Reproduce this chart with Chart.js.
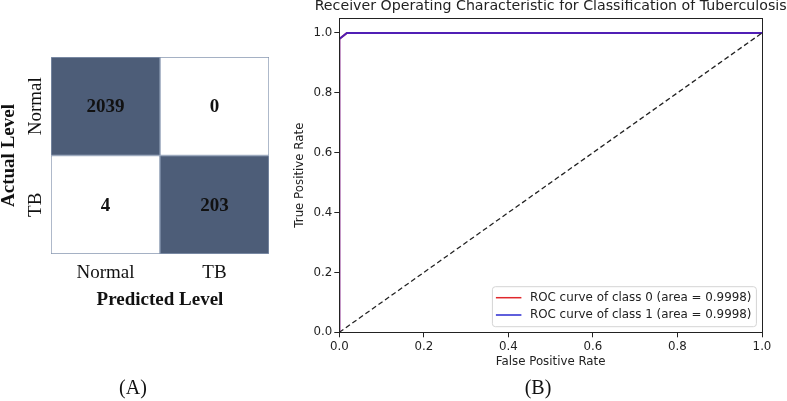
<!DOCTYPE html>
<html lang="en">
<head>
<meta charset="UTF-8">
<title>Confusion matrix and ROC</title>
<script src="https://cdn.jsdelivr.net/npm/chart.js"></script>
<style>
  body { margin: 0; background: #fff; }
  .wrap { position: relative; width: 787px; height: 401px; overflow: hidden; }
  #matriz { position: absolute; left: 0; top: 0; }
  #roc { position: absolute; left: 280px; top: 0; }
  .legenda { position: absolute; top: 376px; font: 20px 'Liberation Serif', serif; color: #111; transform: translateX(-50%); }
</style>
</head>
<body>
<div class="wrap">
  <canvas id="matriz" width="280" height="401"></canvas>
  <canvas id="roc" width="507" height="401"></canvas>
  <div class="legenda" style="left:133px">(A)</div>
  <div class="legenda" style="left:538px">(B)</div>
</div>
<script>
// matriz de confusao
var predictedLabels = ['Normal', 'TB'];
var actualLabels = ['Normal', 'TB'];
var countsNormal = [2039, 0];
var countsTB = [4, 203];

// curva ROC
var fprClass0 = [0, 0, 0.018, 1];
var tprClass0 = [0, 0.98, 1, 1];
var fprClass1 = [0, 0, 0.018, 1];
var tprClass1 = [0, 0.98, 1, 1];
var chanceLine = [0, 1];
var aucClass0 = 0.9998;
var aucClass1 = 0.9998;
var rocTicks = [0, 0.2, 0.4, 0.6, 0.8, 1.0];

var serif = "'Liberation Serif', 'Times New Roman', serif";
var sans = "'DejaVu Sans', sans-serif";

// linhas empilhadas de baixo para cima (TB embaixo, Normal em cima)
var linhas = [
    { nome: actualLabels[1], idx: 1, counts: countsTB },
    { nome: actualLabels[0], idx: 0, counts: countsNormal }
];

var matrizPlugin = {
    id: 'matrizTextos',
    afterDatasetsDraw: function (chart) {
        var ctx = chart.ctx;
        var area = chart.chartArea;
        ctx.save();
        ctx.fillStyle = '#111';
        ctx.textAlign = 'center';
        ctx.textBaseline = 'middle';
        chart.data.datasets.forEach(function (ds, i) {
            var meta = chart.getDatasetMeta(i);
            meta.data.forEach(function (bar, j) {
                var cy = (bar.y + bar.base) / 2;
                ctx.font = 'bold 19px ' + serif;
                ctx.fillText(String(ds.counts[j]), bar.x, cy + 1);
                if (j === 0) {
                    ctx.save();
                    ctx.translate(36, cy);
                    ctx.rotate(-Math.PI / 2);
                    ctx.font = '19px ' + serif;
                    ctx.fillText(ds.label, 0, 0);
                    ctx.restore();
                }
            });
        });
        ctx.save();
        ctx.translate(9, (area.top + area.bottom) / 2);
        ctx.rotate(-Math.PI / 2);
        ctx.font = 'bold 19px ' + serif;
        ctx.fillText('Actual Level', 0, 0);
        ctx.restore();
        ctx.restore();
    }
};

new Chart(document.getElementById('matriz'), {
    type: 'bar',
    data: {
        labels: predictedLabels,
        datasets: linhas.map(function (l) {
            return {
                label: l.nome,
                data: predictedLabels.map(function () { return 1; }),
                counts: l.counts,
                backgroundColor: predictedLabels.map(function (p, j) { return j === l.idx ? '#4d5d78' : '#ffffff'; }),
                borderColor: '#8797b0',
                borderWidth: 1,
                borderSkipped: false,
                barPercentage: 1,
                categoryPercentage: 1
            };
        })
    },
    options: {
        responsive: false,
        animation: false,
        events: [],
        layout: { padding: { left: 51, right: 11, top: 57, bottom: 0 } },
        plugins: { legend: { display: false }, tooltip: { enabled: false } },
        scales: {
            x: {
                stacked: true,
                grid: { display: false, drawTicks: false },
                border: { display: false },
                ticks: { color: '#111', font: { family: serif, size: 19 }, padding: 8 },
                title: {
                    display: true,
                    text: 'Predicted Level',
                    color: '#111',
                    font: { family: serif, size: 19, weight: 'bold' },
                    padding: { top: 0, bottom: 90 }
                },
                afterFit: function (s) { s.height = 147; }
            },
            y: { stacked: true, display: false, min: 0, max: 2 }
        }
    },
    plugins: [matrizPlugin]
});

var rocPlugin = {
    id: 'rocExtras',
    afterDraw: function (chart) {
        var ctx = chart.ctx;
        var a = chart.chartArea;
        ctx.save();
        // moldura
        ctx.strokeStyle = '#222';
        ctx.lineWidth = 1;
        ctx.strokeRect(Math.round(a.left) + 0.5, Math.round(a.top) + 0.5, Math.round(a.right - a.left), Math.round(a.bottom - a.top));
        // titulo
        ctx.fillStyle = '#222';
        ctx.font = '14.2px ' + sans;
        ctx.textAlign = 'center';
        ctx.textBaseline = 'middle';
        ctx.fillText('Receiver Operating Characteristic for Classification of Tuberculosis', (a.left + a.right) / 2, 6.5);
        // legenda
        var itens = chart.data.datasets.filter(function (d) { return d.naLegenda; });
        var w = 264, h = 40;
        var x0 = a.right - 5.6 - w, y0 = a.bottom - 5.6 - h;
        ctx.beginPath();
        ctx.roundRect(x0, y0, w, h, 3);
        ctx.fillStyle = 'rgba(255,255,255,0.85)';
        ctx.fill();
        ctx.strokeStyle = '#d4d4d4';
        ctx.stroke();
        ctx.font = '11.9px ' + sans;
        ctx.textAlign = 'left';
        itens.forEach(function (d, i) {
            var ly = y0 + 11 + i * 17.3;
            ctx.beginPath();
            ctx.moveTo(x0 + 3.5, ly);
            ctx.lineTo(x0 + 29, ly);
            ctx.strokeStyle = d.corLegenda;
            ctx.lineWidth = 1.5;
            ctx.stroke();
            ctx.fillStyle = '#222';
            ctx.fillText(d.label, x0 + 37.5, ly);
        });
        ctx.restore();
    }
};

function pontos(xs, ys) {
    return xs.map(function (x, i) { return { x: x, y: ys[i] }; });
}

var eixoFonte = { family: sans, size: 11.8 };

new Chart(document.getElementById('roc'), {
    type: 'scatter',
    data: {
        datasets: [
            {
                label: 'ROC curve of class 0 (area = ' + aucClass0.toFixed(4) + ')',
                data: pontos(fprClass0, tprClass0),
                showLine: true,
                borderColor: '#e0282c',
                corLegenda: '#e0282c',
                naLegenda: true,
                borderWidth: 2,
                pointRadius: 0,
                order: 3
            },
            {
                label: 'ROC curve of class 1 (area = ' + aucClass1.toFixed(4) + ')',
                data: pontos(fprClass1, tprClass1),
                showLine: true,
                borderColor: 'rgba(40,30,220,0.78)',
                corLegenda: '#2a2ad0',
                naLegenda: true,
                borderWidth: 2,
                pointRadius: 0,
                order: 2
            },
            {
                label: 'chance',
                data: pontos(chanceLine, chanceLine),
                showLine: true,
                borderColor: '#222',
                borderWidth: 1.3,
                borderDash: [5, 3],
                pointRadius: 0,
                order: 1
            }
        ]
    },
    options: {
        responsive: false,
        animation: false,
        events: [],
        layout: { padding: { left: 0, right: 25, top: 18, bottom: 0 } },
        plugins: { legend: { display: false }, tooltip: { enabled: false } },
        scales: {
            x: {
                type: 'linear',
                min: 0,
                max: 1,
                afterBuildTicks: function (s) { s.ticks = rocTicks.map(function (v) { return { value: v }; }); },
                ticks: { color: '#222', font: eixoFonte, padding: 3, maxRotation: 0, callback: function (v) { return v.toFixed(1); } },
                grid: { drawOnChartArea: false, drawTicks: true, tickLength: 5, color: '#222' },
                border: { color: '#222', width: 1 },
                title: { display: true, text: 'False Positive Rate', color: '#222', font: eixoFonte, padding: { top: 0, bottom: 32 } },
                afterFit: function (s) { s.height = 68.7; }
            },
            y: {
                type: 'linear',
                min: 0,
                max: 1.05,
                afterBuildTicks: function (s) { s.ticks = rocTicks.map(function (v) { return { value: v }; }); },
                ticks: { color: '#222', font: eixoFonte, padding: 2, callback: function (v) { return v.toFixed(1); } },
                grid: { drawOnChartArea: false, drawTicks: true, tickLength: 5, color: '#222' },
                border: { color: '#222', width: 1 },
                title: { display: true, text: 'True Positive Rate', color: '#222', font: eixoFonte, padding: { top: 13, bottom: 0 } },
                afterFit: function (s) { s.width = 59.3; }
            }
        }
    },
    plugins: [rocPlugin]
});
</script>
</body>
</html>
